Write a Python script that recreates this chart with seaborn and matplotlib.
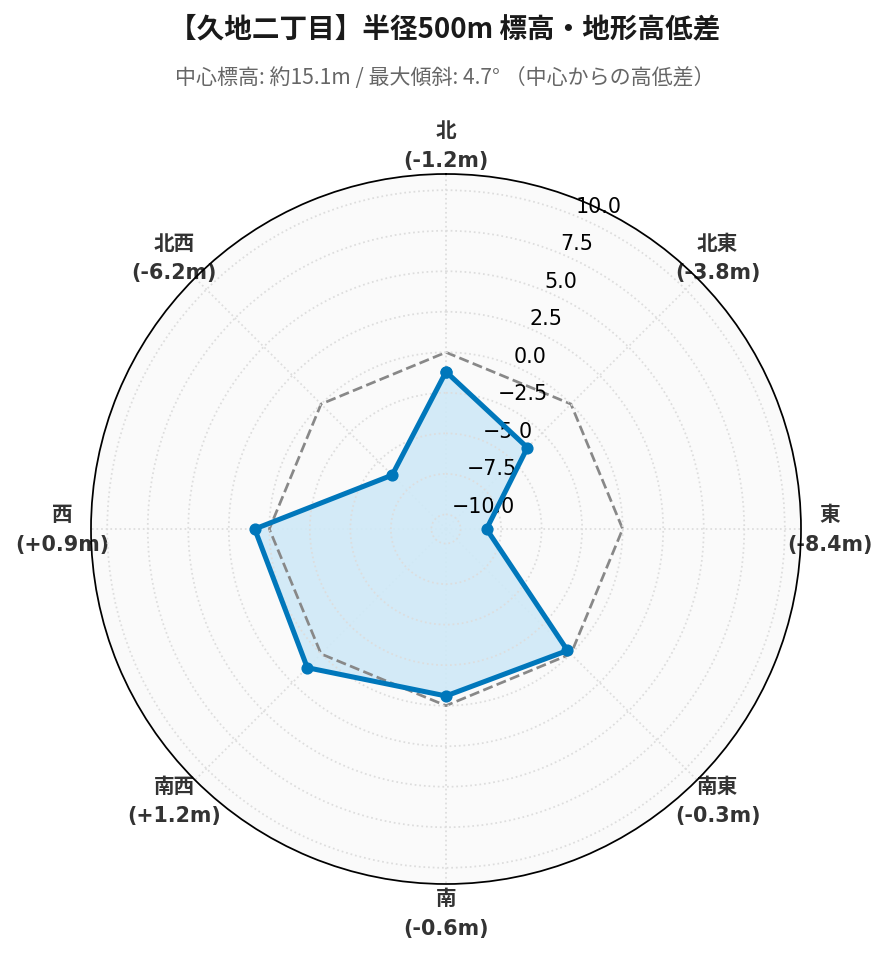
import numpy as np
import pandas as pd
import matplotlib
matplotlib.use("Agg")
import matplotlib.pyplot as plt
import seaborn as sns

# 方位ごとの中心からの高低差 (m)
directions = ["北", "北東", "東", "南東", "南", "南西", "西", "北西"]
diffs = [-1.2, -3.8, -8.4, -0.3, -0.6, 1.2, 0.9, -6.2]
r_ticks = [-10.0, -7.5, -5.0, -2.5, 0.0, 2.5, 5.0, 7.5, 10.0]
r_limits = (-10.9, 11.0)

title = "【久地二丁目】半径500m 標高・地形高低差"
subtitle = "中心標高: 約15.1m / 最大傾斜: 4.7° （中心からの高低差）"

sns.set_theme(style="white")
plt.rcParams["font.family"] = ["DejaVu Sans", "Noto Sans CJK JP"]
plt.rcParams["axes.unicode_minus"] = True

angles = np.linspace(0, 2 * np.pi, len(directions), endpoint=False)
df = pd.DataFrame({"theta": np.append(angles, angles[0]),
                   "diff": diffs + diffs[:1]})
df["zero"] = 0.0

fig = plt.figure(figsize=(889 / 140, 962 / 140), dpi=140)
ax = fig.add_axes([91 / 889, 77 / 962, 710 / 889, 710 / 962], projection="polar")
ax.set_facecolor("#fafafa")
ax.set_theta_zero_location("N")
ax.set_theta_direction(-1)

# 基準線 (0m)
sns.lineplot(data=df, x="theta", y="zero", ax=ax, sort=False, estimator=None,
             color="#888888", linestyle="--", linewidth=1.4, zorder=3)

# 高低差
ax.fill(df["theta"], df["diff"], color="#cfe9f7", alpha=0.9, zorder=2)
sns.lineplot(data=df, x="theta", y="diff", ax=ax, sort=False, estimator=None,
             color="#0077bb", linewidth=2.6, marker="o", markersize=5.5,
             markeredgecolor="#0077bb", zorder=4)

ax.set_ylim(*r_limits)
ax.set_yticks(r_ticks)
ax.set_yticklabels([f"{t:.1f}".replace("-", "\u2212") for t in r_ticks],
                   fontsize=10.6, color="black", family="DejaVu Sans")
ax.set_rlabel_position(22.5)
# 目盛りラベルを塗りの上に (線よりは下)
ax.yaxis.set_zorder(3.5)

labels = [f"{d}\n({v:+.1f}m)" if v > 0 else f"{d}\n({v:.1f}m)"
          for d, v in zip(directions, diffs)]
ax.set_xticks(angles)
ax.set_xticklabels(labels, fontsize=10.6, fontweight="bold", color="#333333",
                   linespacing=1.6)
ax.tick_params(axis="x", pad=2)

ax.grid(True, color="#dddddd", linestyle=":", linewidth=0.9)
ax.spines["polar"].set_color("black")
ax.spines["polar"].set_linewidth(0.9)
ax.set_xlabel("")
ax.set_ylabel("")

fig.text(0.5, 1 - 29 / 962, title, ha="center", va="center", fontsize=14.2,
         fontweight="bold", color="#1a1a1a", family=["Noto Sans CJK JP"])
fig.text(0.5, 1 - 78 / 962, subtitle, ha="center", va="center", fontsize=10.8,
         color="#666666", family=["Noto Sans CJK JP"])

fig.savefig("out.png", dpi=140)
